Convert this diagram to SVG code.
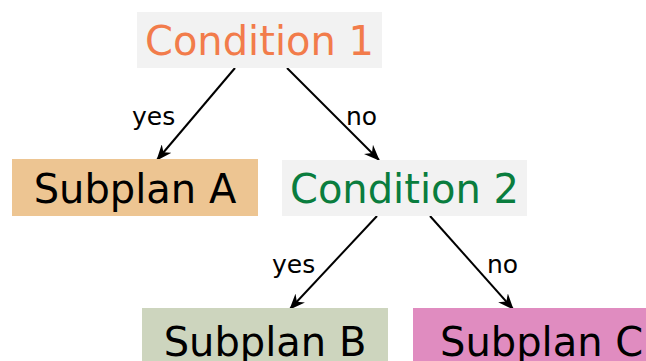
<svg xmlns="http://www.w3.org/2000/svg" width="646" height="361" viewBox="0 0 646 361">
  <style>
    .node-text { font-family: "DejaVu Sans", Verdana, sans-serif; font-size: 40px; }
    .edge-label { font-family: "DejaVu Sans", Verdana, sans-serif; font-size: 25px; fill: #000; }
    .edge { stroke: #000; stroke-width: 2; fill: none; marker-end: url(#arrow); }
  </style>
  <defs>
    <marker id="arrow" viewBox="0 0 16 13" refX="15" refY="6.5" markerWidth="16" markerHeight="13" markerUnits="userSpaceOnUse" orient="auto">
      <path d="M0,0 L16,6.5 L0,13 L5,6.5 z" fill="#000"/>
    </marker>
  </defs>
  <rect width="646" height="361" fill="#fff"/>

  <g id="connectors">
    <line class="edge" x1="235" y1="68" x2="157" y2="160"/>
    <line class="edge" x1="287" y1="68" x2="379" y2="160"/>
    <line class="edge" x1="377" y1="216" x2="290" y2="309"/>
    <line class="edge" x1="430" y1="216" x2="513" y2="309"/>
    <text class="edge-label" x="132" y="125">yes</text>
    <text class="edge-label" x="346" y="125">no</text>
    <text class="edge-label" x="272" y="273">yes</text>
    <text class="edge-label" x="487" y="273">no</text>
  </g>

  <g id="condition1">
    <rect x="137" y="12" width="245" height="56" fill="#f2f2f2"/>
    <text class="node-text" x="259.5" y="55" text-anchor="middle" fill="#f27c4b">Condition 1</text>
  </g>

  <g id="subplanA">
    <rect x="12" y="159" width="246" height="57" fill="#edc592"/>
    <text class="node-text" x="135" y="203" text-anchor="middle" fill="#000">Subplan A</text>
  </g>

  <g id="condition2">
    <rect x="282" y="160" width="245" height="56" fill="#f2f2f2"/>
    <text class="node-text" x="404.5" y="203" text-anchor="middle" fill="#0a7d3e">Condition 2</text>
  </g>

  <g id="subplanB">
    <rect x="142" y="308" width="246" height="60" fill="#cdd5be"/>
    <text class="node-text" x="265" y="356" text-anchor="middle" fill="#000">Subplan B</text>
  </g>

  <g id="subplanC">
    <rect x="413" y="308" width="246" height="60" fill="#e08cc0"/>
    <text class="node-text" x="440" y="356" fill="#000">Subplan C</text>
  </g>
</svg>
